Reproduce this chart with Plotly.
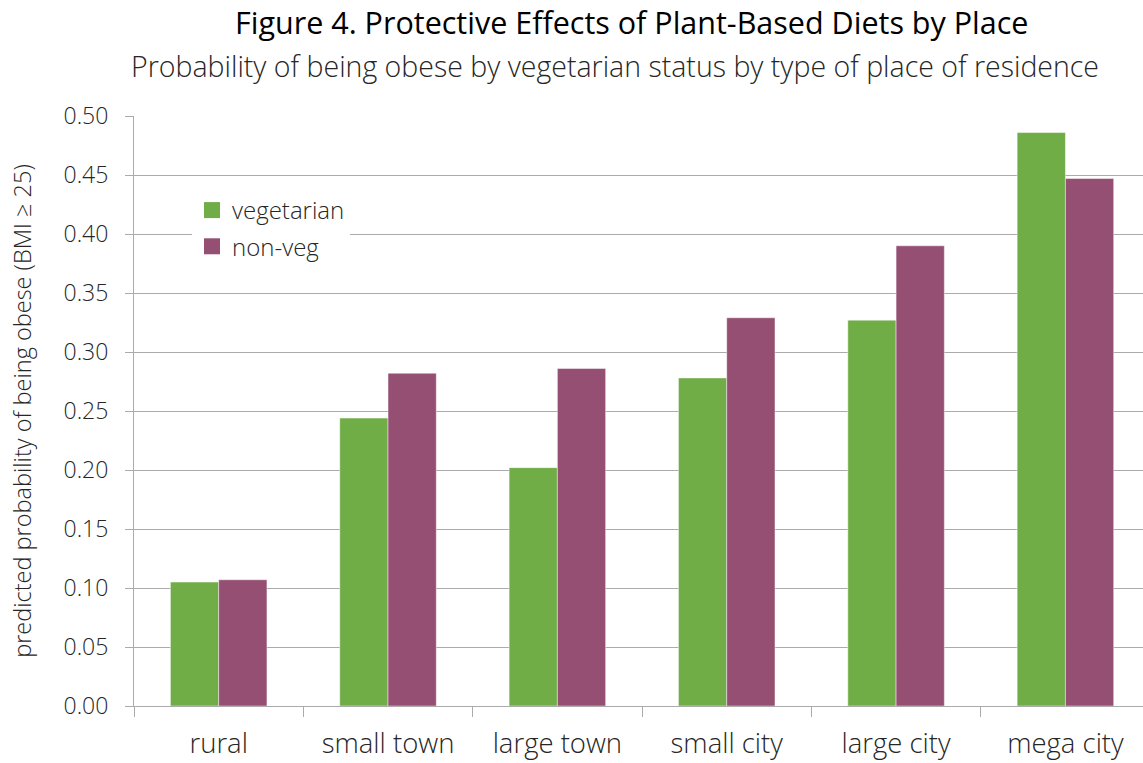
import plotly.graph_objects as go

# Place-of-residence categories and predicted probabilities of obesity
places = ["rural", "small town", "large town", "small city", "large city", "mega city"]
vegetarian = [0.105, 0.244, 0.202, 0.278, 0.327, 0.486]
non_veg = [0.107, 0.282, 0.286, 0.329, 0.390, 0.447]
y_ticks = [0.00, 0.05, 0.10, 0.15, 0.20, 0.25, 0.30, 0.35, 0.40, 0.45, 0.50]

GREEN = "#70AD47"
PURPLE = "#954F72"
GRID = "#ABABAB"
TEXT = "#262626"
BODY_FONT = "Open Sans"
LIGHT = 300

fig = go.Figure()

fig.add_trace(go.Bar(
    x=places, y=vegetarian, name="vegetarian", marker_color=GREEN,
    marker_line=dict(color="rgba(255,255,255,0.45)", width=1),
    showlegend=False,
))
fig.add_trace(go.Bar(
    x=places, y=non_veg, name="non-veg", marker_color=PURPLE,
    marker_line=dict(color="rgba(255,255,255,0.45)", width=1),
    showlegend=False,
))

# Legend entries with larger square swatches
for name, color in [("vegetarian", GREEN), ("non-veg", PURPLE)]:
    fig.add_trace(go.Scatter(
        x=[None], y=[None], mode="markers", name=name, legendgroup=name,
        marker=dict(symbol="square", size=16, color=color),
    ))

fig.update_layout(
    width=1143, height=763,
    margin=dict(l=134, r=0, t=116, b=57),
    paper_bgcolor="white", plot_bgcolor="white",
    barmode="group", bargap=0.43, bargroupgap=0,
    font=dict(family=BODY_FONT, color=TEXT, weight=LIGHT),
    legend=dict(
        x=(192 - 134) / 1009, y=0.878, xanchor="left", yanchor="top",
        bgcolor="white",
        font=dict(size=24, family=BODY_FONT, color=TEXT, weight=LIGHT),
        traceorder="grouped", tracegroupgap=2,
        itemwidth=30,
    ),
    annotations=[
        dict(text="Figure 4. Protective Effects of Plant-Based Diets by Place",
             xref="paper", yref="paper", x=(631 - 134) / 1009, y=1.0 + (116 - 22) / 590,
             xanchor="center", yanchor="middle", showarrow=False,
             font=dict(family=BODY_FONT, size=30.5, color="black", weight=400)),
        dict(text="Probability of being obese by vegetarian status by type of place of residence",
             xref="paper", yref="paper", x=(615 - 134) / 1009, y=1.0 + (116 - 66) / 590,
             xanchor="center", yanchor="middle", showarrow=False,
             font=dict(family=BODY_FONT, size=28.5, color=TEXT, weight=LIGHT)),
    ],
)

fig.update_xaxes(
    type="category", range=[-0.5, -0.5 + (1143 - 134.3) / 169.3],
    showline=True, linecolor=GRID, linewidth=1,
    ticks="outside", tickson="boundaries", ticklen=10, tickcolor=GRID,
    tickfont=dict(size=27.5, family=BODY_FONT, color=TEXT, weight=LIGHT),
    ticklabelstandoff=13, automargin=False,
    showgrid=False,
)

fig.update_yaxes(
    range=[0, 0.5], tickvals=y_ticks, tickformat=".2f",
    showgrid=True, gridcolor=GRID, gridwidth=1,
    showline=True, linecolor=GRID, linewidth=1,
    ticks="outside", ticklen=8, tickcolor=GRID,
    tickfont=dict(size=23, family=BODY_FONT, color=TEXT, weight=LIGHT),
    ticklabelstandoff=12, automargin=False,
    zeroline=False,
    title=dict(text="predicted probability of being obese (BMI ≥ 25)",
               font=dict(size=23.5, family=BODY_FONT, color=TEXT, weight=LIGHT),
               standoff=25),
)

fig.write_html("out.html")
